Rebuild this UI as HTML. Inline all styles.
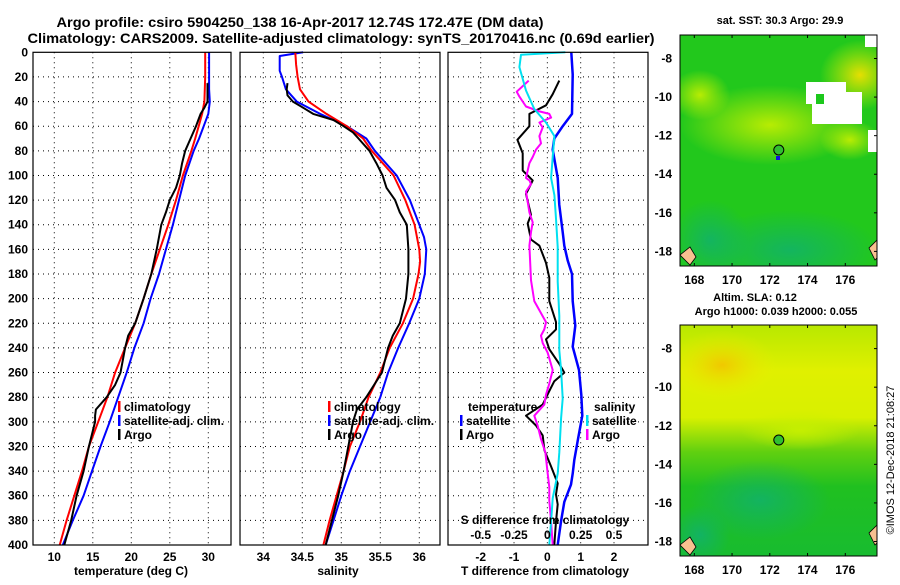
<!DOCTYPE html>
<html><head><meta charset="utf-8">
<style>
body{margin:0;background:#fff;}
svg text{font-family:"Liberation Sans",sans-serif;font-weight:bold;fill:#000;}
</style></head>
<body>
<svg id="fig" width="900" height="580" viewBox="0 0 900 580" xmlns="http://www.w3.org/2000/svg">
<defs>
<radialGradient id="gY1" cx="0.5" cy="0.5" r="0.5"><stop offset="0" stop-color="#f0e000" stop-opacity="0.95"/><stop offset="1" stop-color="#d8f000" stop-opacity="0"/></radialGradient>
<radialGradient id="gY2" cx="0.5" cy="0.5" r="0.5"><stop offset="0" stop-color="#c8f000" stop-opacity="0.9"/><stop offset="1" stop-color="#c8f000" stop-opacity="0"/></radialGradient>
<radialGradient id="gT" cx="0.5" cy="0.5" r="0.5"><stop offset="0" stop-color="#10b070" stop-opacity="0.8"/><stop offset="1" stop-color="#10b070" stop-opacity="0"/></radialGradient>
<radialGradient id="gO" cx="0.5" cy="0.5" r="0.5"><stop offset="0" stop-color="#f0c800" stop-opacity="1"/><stop offset="1" stop-color="#e8f000" stop-opacity="0"/></radialGradient>
<linearGradient id="gB" x1="0" y1="0" x2="0" y2="1"><stop offset="0" stop-color="#b8e800"/><stop offset="0.2" stop-color="#e0f000"/><stop offset="0.4" stop-color="#d8f000"/><stop offset="0.55" stop-color="#60d010"/><stop offset="0.7" stop-color="#20c020"/><stop offset="1" stop-color="#18bc30"/></linearGradient>
<clipPath id="c1"><rect x="680" y="35" width="197" height="231"/></clipPath>
<clipPath id="c2"><rect x="680" y="325" width="197" height="231"/></clipPath>
</defs>
<text x="300" y="27" font-size="13.5" text-anchor="middle" textLength="487" lengthAdjust="spacingAndGlyphs">Argo profile: csiro 5904250_138 16-Apr-2017 12.74S 172.47E (DM data)</text>
<text x="341" y="43" font-size="13.5" text-anchor="middle" textLength="627" lengthAdjust="spacingAndGlyphs">Climatology: CARS2009. Satellite-adjusted climatology: synTS_20170416.nc (0.69d earlier)</text>
<g id="plots"></g>
<!-- maps -->
<g clip-path="url(#c1)">
<rect x="680" y="35" width="197" height="231" fill="#22c81c"/>
<ellipse cx="860" cy="75" rx="40" ry="35" fill="url(#gY1)"/>
<ellipse cx="770" cy="125" rx="90" ry="40" fill="url(#gY2)"/>
<ellipse cx="700" cy="95" rx="30" ry="25" fill="url(#gY2)"/>
<ellipse cx="850" cy="140" rx="30" ry="20" fill="url(#gY2)"/>
<ellipse cx="790" cy="250" rx="90" ry="40" fill="url(#gT)"/>
<ellipse cx="710" cy="240" rx="40" ry="40" fill="url(#gT)"/>
<rect x="806" y="82" width="40" height="22" fill="#fff"/>
<rect x="812" y="92" width="50" height="32" fill="#fff"/>
<rect x="816" y="94" width="8" height="10" fill="#1cc81c"/>
<rect x="868" y="130" width="9" height="22" fill="#fff"/>
<rect x="865" y="35" width="12" height="12" fill="#fff"/>
<rect x="776" y="156" width="4" height="4" fill="#1010e0"/>
<path d="M680 255 l10 -8 l6 10 l-6 8z M877 240 l-8 8 l6 12 l4 -4z" fill="#f8c090" stroke="#000" stroke-width="0.8"/>
<circle cx="778.8" cy="150" r="5" fill="#30c030" stroke="#000" stroke-width="1"/>
</g>
<rect x="680" y="35" width="197" height="231" fill="none" stroke="#000" stroke-width="1"/>
<text x="780" y="24" font-size="11" text-anchor="middle">sat. SST: 30.3 Argo: 29.9</text>
<g clip-path="url(#c2)">
<rect x="680" y="325" width="197" height="231" fill="url(#gB)"/>
<ellipse cx="722" cy="365" rx="55" ry="35" fill="url(#gO)"/>
<ellipse cx="760" cy="500" rx="70" ry="40" fill="url(#gT)"/>
<ellipse cx="700" cy="535" rx="30" ry="30" fill="url(#gT)"/>
<ellipse cx="800" cy="430" rx="60" ry="20" fill="url(#gY2)"/>
<path d="M680 545 l10 -8 l6 10 l-6 8z M877 525 l-8 8 l6 12 l4 -4z" fill="#f8c090" stroke="#000" stroke-width="0.8"/>
<circle cx="778.8" cy="440" r="5" fill="#30c030" stroke="#000" stroke-width="1"/>
</g>
<rect x="680" y="325" width="197" height="231" fill="none" stroke="#000" stroke-width="1"/>
<text x="755" y="301" font-size="11" text-anchor="middle">Altim. SLA: 0.12</text>
<text x="776" y="315" font-size="11" text-anchor="middle">Argo h1000: 0.039 h2000: 0.055</text>
<text transform="translate(894,460) rotate(-90)" font-size="11" text-anchor="middle" style="font-weight:normal">©IMOS 12-Dec-2018 21:08:27</text>
<g id="mapaxes"></g>
</svg>
<script>
// ---- data ----
const tempClimDepth=[0,20,40,50,60,70,80,100,120,140,160,180,200,220,240,260,280,300,320,340,360,380,400];
const tempClim=[29.6,29.6,29.5,29.2,28.75,28.3,27.8,26.7,25.8,24.8,23.7,22.6,21.6,20.5,19.2,17.9,16.9,15.7,14.5,13.6,12.6,11.6,10.7];
const tempSatDepth=[0,30,40,50,60,70,80,100,120,140,160,180,200,220,240,260,280,300,320,340,360,380,400];
const tempSat=[30.1,30.1,30.2,30.0,29.4,28.8,28.1,27.0,26.2,25.4,24.5,23.6,22.5,21.6,20.4,19.4,18.3,17.2,16.0,14.9,13.8,12.4,11.1];
const tempArgoDepth=[25,40,45,50,55,60,70,80,90,100,110,120,130,140,160,180,200,220,230,240,260,270,280,290,295,300,320,340,360,380,400];
const tempArgo=[29.9,29.9,29.5,29.0,28.7,28.4,27.7,27.0,26.6,26.3,25.8,25.0,24.5,23.9,23.3,22.6,21.6,20.5,19.6,19.2,18.6,17.9,16.8,15.4,15.3,15.3,14.5,13.8,12.9,12.2,11.3];
const salClimDepth=[0,10,20,30,40,50,55,60,70,80,100,120,140,160,170,180,200,220,240,260,280,300,320,340,360,380,400];
const salClim=[34.41,34.42,34.44,34.47,34.58,34.81,34.94,35.07,35.28,35.39,35.67,35.82,35.94,36.0,36.01,35.99,35.92,35.79,35.62,35.5,35.35,35.24,35.11,35.03,34.94,34.85,34.77];
const salSatDepth=[0,3,15,20,30,40,50,60,70,80,100,120,140,150,160,180,200,220,240,260,280,300,320,340,360,380,400];
const salSat=[34.51,34.21,34.21,34.24,34.29,34.43,34.73,35.07,35.32,35.43,35.71,35.88,36.0,36.06,36.09,36.07,36.0,35.87,35.73,35.6,35.5,35.37,35.24,35.11,35.0,34.9,34.8];
const salArgoDepth=[25,30,35,40,45,50,55,60,65,70,80,90,100,110,120,130,140,160,180,200,220,230,240,260,280,290,300,320,340,360,380,400];
const salArgo=[34.31,34.3,34.31,34.38,34.51,34.64,34.9,35.03,35.15,35.22,35.36,35.45,35.53,35.58,35.69,35.75,35.84,35.86,35.86,35.83,35.75,35.66,35.6,35.52,35.32,35.2,35.15,35.09,35.03,34.96,34.88,34.8];
const dTSatDepth=[0,18,50,60,70,79,102,124,146,157,169,180,202,222,239,258,278,295,314,331,342,351,365,381,400];
const dTSat=[0.72,0.76,0.74,0.46,0.21,0.16,0.31,0.36,0.46,0.51,0.61,0.74,0.76,0.84,0.76,0.95,1.02,1.05,0.92,0.81,0.76,0.71,0.51,0.41,0.31];
const dTArgoDepth=[23,34,43,50,60,71,82,96,104,115,132,139,152,157,171,183,202,219,225,233,241,253,260,267,275,286,295,303,311,323,336,350,359,367,381,400];
const dTArgo=[0.36,0.16,-0.04,-0.54,-0.54,-0.9,-0.74,-0.74,-0.44,-0.64,-0.49,-0.59,-0.49,-0.24,-0.04,0.06,0.06,0.26,0.26,-0.04,0.06,0.36,0.51,0.21,0.06,-0.14,-0.64,-0.34,-0.14,-0.09,0.11,0.31,0.26,0.31,0.26,0.21];
const dSSatDepth=[0,2,12,31,46,57,68,85,102,116,135,158,186,214,242,258,281,297,325,342,362,381,400];
const dSSat=[0.135,-0.198,-0.21,-0.16,-0.098,-0.01,0.053,0.04,0.028,0.053,0.065,0.078,0.078,0.09,0.09,0.103,0.115,0.103,0.09,0.078,0.04,0.028,0.015];
const dSArgoDepth=[23,32,36,44,48,50,53,57,61,68,74,79,85,90,102,104,107,113,121,130,138,146,157,185,202,219,225,230,236,244,258,269,278,286,295,303,314,325,342,353,364,381,400];
const dSArgo=[-0.14,-0.23,-0.21,-0.16,-0.06,0.015,0.028,-0.06,-0.035,-0.06,-0.048,-0.085,-0.11,-0.135,-0.16,-0.135,-0.123,-0.16,-0.148,-0.135,-0.11,-0.123,-0.135,-0.123,-0.098,-0.01,-0.023,-0.048,-0.035,0.003,0.04,0.015,-0.01,-0.023,-0.098,-0.073,-0.048,-0.015,0.003,0.015,0.015,0.028,0.04];
const depthTicks=[0,20,40,60,80,100,120,140,160,180,200,220,240,260,280,300,320,340,360,380,400];
const tempTicks=[10,15,20,25,30];
const salTicks=[34,34.5,35,35.5,36];
const dTTicks=[-2,-1,0,1,2];
const dSTicks=[-0.5,-0.25,0,0.25,0.5];
const dSTickLabels=['-0.5','-0.25','0','0.25','0.5'];
const lonTicks=[168,170,172,174,176];
const latTicks=[-8,-10,-12,-14,-16,-18];

// ---- drawing ----
const NS='http://www.w3.org/2000/svg';
const root=document.getElementById('plots');
function mk(tag,attrs,parent){const e=document.createElementNS(NS,tag);for(const k in attrs)e.setAttribute(k,attrs[k]);(parent||root).appendChild(e);return e;}
const Y0=52.3,Y1=545;
const yScale=d=>Y0+(d/400)*(Y1-Y0);
function linScale(d0,d1,p0,p1){return v=>p0+(v-d0)/(d1-d0)*(p1-p0);}
const xT=linScale(10,30,54.3,208.3);
const xS=linScale(34,36,263.3,419.3);
const xD=linScale(-2,2,480.7,614);
const xDS=v=>xD(v*4);

function grid(x0,x1,xs,ticks){
  const g=mk('g',{});
  
  
  depthTicks.forEach(d=>{if(d>0&&d<400)mk('line',{x1:x0,x2:x1,y1:yScale(d),y2:yScale(d),stroke:'#000','stroke-width':1,'stroke-dasharray':'1,4'},g);});
  ticks.forEach(t=>{mk('line',{x1:xs(t),x2:xs(t),y1:Y0,y2:Y1,stroke:'#000','stroke-width':1,'stroke-dasharray':'1,4'},g);});
}
function line(xs,vals,deps,color,w,name){
  const pts=vals.map((v,i)=>xs(v).toFixed(1)+','+yScale(deps[i]).toFixed(1)).join(' ');
  const p=mk('polyline',{points:pts,fill:'none',stroke:color,'stroke-width':w,'stroke-linejoin':'round'});
  
  
}
function frame(x0,x1,name){
  const r=mk('rect',{x:x0,y:Y0,width:x1-x0,height:Y1-Y0,fill:'none',stroke:'#000','stroke-width':1.2});
  
  
}
function txt(x,y,s,anchor,name,size){
  const t=mk('text',{x:x,y:y,'text-anchor':anchor||'start','font-size':size||12});
  t.textContent=s;
  
  
  return t;
}
grid(33,231,xT,tempTicks);
grid(240,440,xS,salTicks);
grid(448,648,xD,dTTicks);
line(xT,tempSat,tempSatDepth,'#0000ff',2,'temp-satellite-line');
line(xT,tempClim,tempClimDepth,'#ff0000',2,'temp-climatology-line');
line(xT,tempArgo,tempArgoDepth,'#000',2,'temp-argo-line');
line(xS,salSat,salSatDepth,'#0000ff',2,'salinity-satellite-line');
line(xS,salClim,salClimDepth,'#ff0000',2,'salinity-climatology-line');
line(xS,salArgo,salArgoDepth,'#000',2,'salinity-argo-line');
line(xD,dTSat,dTSatDepth,'#0000ff',2.5,'tdiff-satellite-line');
line(xD,dTArgo,dTArgoDepth,'#000',2,'tdiff-argo-line');
line(xDS,dSArgo,dSArgoDepth,'#ff00ff',2,'sdiff-argo-line');
line(xDS,dSSat,dSSatDepth,'#00e0f0',2,'sdiff-satellite-line');
frame(33,231,'temperature-plot-frame');
frame(240,440,'salinity-plot-frame');
frame(448,648,'difference-plot-frame');
depthTicks.forEach(d=>txt(28,yScale(d)+4,String(d),'end','y-tick-label'));
tempTicks.forEach(t=>txt(xT(t),561,String(t),'middle','temp-x-tick-label'));
salTicks.forEach(t=>txt(xS(t),561,String(t),'middle','salinity-x-tick-label'));
dTTicks.forEach(t=>txt(xD(t),561,String(t),'middle','tdiff-x-tick-label'));
dSTicks.forEach((t,i)=>txt(xDS(t),539,dSTickLabels[i],'middle','sdiff-tick-label'));
txt(131,575,'temperature (deg C)','middle','temp-x-axis-title');
txt(338,575,'salinity','middle','salinity-x-axis-title');
txt(545,575,'T difference from climatology','middle','tdiff-x-axis-title');
txt(545,524,'S difference from climatology','middle','sdiff-axis-title');
function leg(x,y,color,label,name){
  const r=mk('rect',{x:x,y:y-10,width:2.5,height:11,fill:color});
  
  
  txt(x+6,y,label,'start',name);
}
leg(118,411,'#ff0000','climatology','legend-climatology');
leg(118,425,'#0000ff','satellite-adj. clim.','legend-satellite-adj');
leg(118,439,'#000','Argo','legend-argo');
leg(328,411,'#ff0000','climatology','legend-sal-climatology');
leg(328,425,'#0000ff','satellite-adj. clim.','legend-sal-satellite-adj');
leg(328,439,'#000','Argo','legend-sal-argo');
txt(468,411,'temperature','start','legend-temperature-header');
leg(460,425,'#0000ff','satellite','legend-tdiff-satellite');
leg(460,439,'#000','Argo','legend-tdiff-argo');
txt(594,411,'salinity','start','legend-salinity-header');
leg(586,425,'#00e0f0','satellite','legend-sdiff-satellite');
leg(586,439,'#ff00ff','Argo','legend-sdiff-argo');
const ma=document.getElementById('mapaxes');
const lonX=linScale(168,176,694.3,845.3);
const latY1=linScale(-8,-18,58.5,251.4);
const latY2=linScale(-8,-18,348.6,541.5);
lonTicks.forEach(l=>{
  [[35,266],[325,556]].forEach(([t,b])=>{
    mk('line',{x1:lonX(l),x2:lonX(l),y1:t,y2:t+3,stroke:'#000'},ma);
    mk('line',{x1:lonX(l),x2:lonX(l),y1:b,y2:b-3,stroke:'#000'},ma);
  });
  const a=mk('text',{x:lonX(l),y:284,'text-anchor':'middle','font-size':12},ma);a.textContent=l;
  
  
  const b=mk('text',{x:lonX(l),y:574,'text-anchor':'middle','font-size':12},ma);b.textContent=l;
  
  
});
latTicks.forEach(l=>{
  [latY1,latY2].forEach((ys,k)=>{
    mk('line',{x1:877,x2:874,y1:ys(l),y2:ys(l),stroke:'#000'},ma);
    const t=mk('text',{x:672,y:ys(l)+4,'text-anchor':'end','font-size':12},ma);t.textContent=l;
    
    
  });
});
</script>
</body></html>
